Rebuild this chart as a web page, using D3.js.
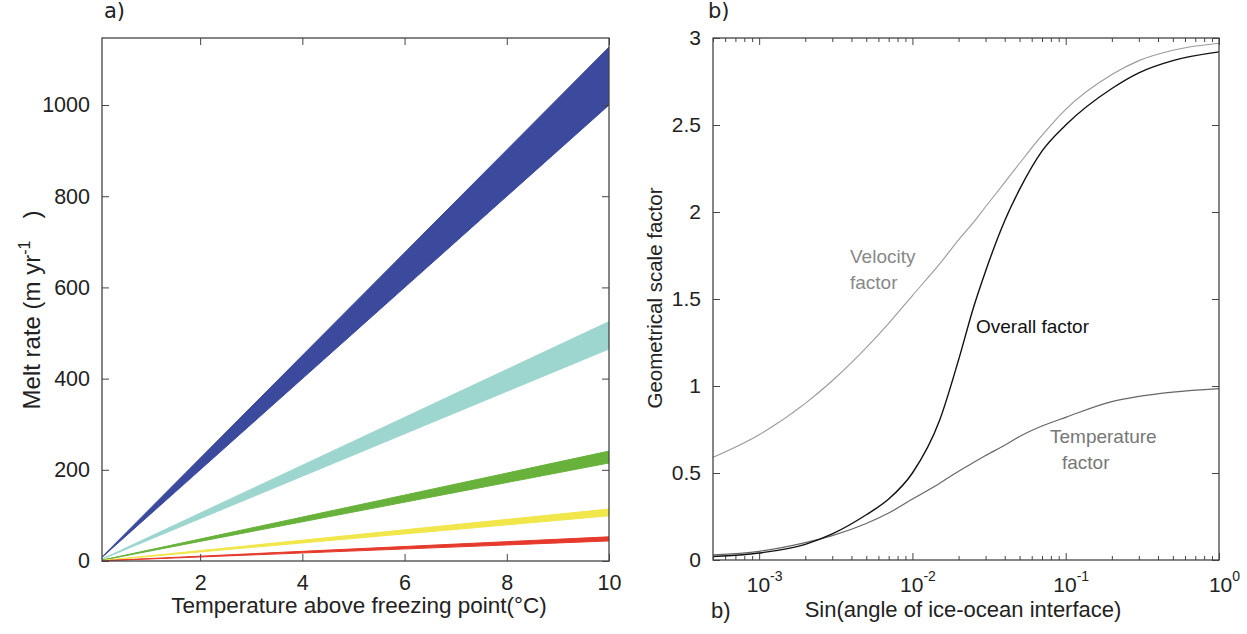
<!DOCTYPE html>
<html>
<head>
<meta charset="utf-8">
<script src="https://cdn.jsdelivr.net/npm/d3@7"></script>
<style>
  body { margin: 0; background: #fff; }
  svg { display: block; font-family: "Liberation Sans", Arial, sans-serif; }
  .frame { fill: none; stroke: #444; stroke-width: 1.3; }
</style>
</head>
<body>
<script>
/* Panel a: melt rate bands (values at T = 0 and T = 10) */
var temps = [0, 10],
    bandColors = ["#3b4a9c", "#9dd6cf", "#68b23c", "#f1e64a", "#e53a2c"],
    bandLow  = [[0, 1000], [0, 465], [0, 215], [0, 99], [0, 44]],
    bandHigh = [[0, 1127], [0, 525], [0, 241], [0, 114], [0, 53]],
    xTicksA = [2, 4, 6, 8, 10],
    yTicksA = [0, 200, 400, 600, 800, 1000];

/* Panel b: geometrical scale factors vs sin(angle) */
var sinAngle       = [5e-4, 1e-3, 2e-3, 3e-3, 5e-3, 7e-3, 1e-2, 1.5e-2, 2e-2, 2.5e-2, 3e-2, 4e-2, 5e-2, 7e-2, 0.1, 0.2, 0.3, 0.5, 1],
    velocityFactor = [0.59, 0.72, 0.90, 1.03, 1.22, 1.36, 1.52, 1.70, 1.84, 1.94, 2.03, 2.17, 2.28, 2.44, 2.59, 2.79, 2.87, 2.93, 2.97],
    tempFactor     = [0.03, 0.05, 0.10, 0.14, 0.21, 0.27, 0.35, 0.44, 0.51, 0.56, 0.60, 0.66, 0.71, 0.77, 0.82, 0.91, 0.94, 0.965, 0.985],
    overallFactor  = [0.02, 0.04, 0.09, 0.15, 0.26, 0.35, 0.50, 0.80, 1.15, 1.45, 1.66, 1.95, 2.13, 2.35, 2.50, 2.71, 2.80, 2.87, 2.92],
    xTicksB = [1e-3, 1e-2, 1e-1, 1],
    yTicksB = [0, 0.5, 1, 1.5, 2, 2.5, 3];

var width = 1247, height = 634;
var svg = d3.select("body").append("svg")
    .attr("width", width)
    .attr("height", height);

/* ---------- panel a ---------- */
var a = {left: 102, right: 609, top: 38, bottom: 561};
var xA = d3.scaleLinear().domain([0.08, 10]).range([a.left, a.right]),
    yA = d3.scaleLinear().domain([0, 1147]).range([a.bottom, a.top]);

svg.append("clipPath").attr("id", "clipA")
  .append("rect").attr("x", a.left).attr("y", a.top)
    .attr("width", a.right - a.left).attr("height", a.bottom - a.top);

var area = d3.area()
    .x(function(d) { return xA(d.t); })
    .y0(function(d) { return yA(d.lo); })
    .y1(function(d) { return yA(d.hi); });

var bands = bandLow.map(function(lo, i) {
  return temps.map(function(t, j) { return {t: t, lo: lo[j], hi: bandHigh[i][j]}; });
});

svg.append("g").attr("clip-path", "url(#clipA)")
  .selectAll("path")
  .data(bands)
  .enter().append("path")
    .attr("d", area)
    .attr("fill", function(d, i) { return bandColors[i]; })
    .attr("stroke", function(d, i) { return bandColors[i]; })
    .attr("stroke-width", 1);

// ticks: inward on all four sides, MATLAB style
svg.append("g").attr("transform", "translate(0," + a.bottom + ")")
    .call(d3.axisBottom(xA).tickValues(xTicksA).tickSize(-7).tickPadding(14).tickFormat(d3.format("d")))
    .call(styleAxis, "21.5px");
svg.append("g").attr("transform", "translate(0," + a.top + ")")
    .call(d3.axisTop(xA).tickValues(xTicksA).tickSize(-7).tickFormat(""))
    .call(styleAxis);
svg.append("g").attr("transform", "translate(" + a.left + ",0)")
    .call(d3.axisLeft(yA).tickValues(yTicksA).tickSize(-7).tickPadding(12).tickFormat(d3.format("d")))
    .call(styleAxis, "21.5px");
svg.append("g").attr("transform", "translate(" + a.right + ",0)")
    .call(d3.axisRight(yA).tickValues(yTicksA).tickSize(-7).tickFormat(""))
    .call(styleAxis);

svg.append("rect").attr("class", "frame")
    .attr("x", a.left).attr("y", a.top)
    .attr("width", a.right - a.left).attr("height", a.bottom - a.top);

svg.append("text")
    .attr("x", 359).attr("y", 613)
    .attr("text-anchor", "middle")
    .style("font-size", "22.5px").style("fill", "#222")
    .text("Temperature above freezing point(\u00B0C)");

var yl = svg.append("text")
    .attr("transform", "translate(40,310) rotate(-90)")
    .attr("text-anchor", "middle")
    .style("font-size", "24px").style("fill", "#222");
yl.append("tspan").text("Melt rate (m yr");
yl.append("tspan").attr("dy", -10).style("font-size", "16px").text("-1");
yl.append("tspan").attr("dy", 10).attr("dx", 22).text(")");

svg.append("text")
    .attr("x", 104).attr("y", 18)
    .style("font-family", "'DejaVu Sans', sans-serif")
    .style("font-size", "21px").style("fill", "#222")
    .text("a)");

/* ---------- panel b ---------- */
var b = {left: 713, right: 1219, top: 38, bottom: 560};
var xB = d3.scaleLog().domain([5e-4, 1]).range([b.left, b.right]),
    yB = d3.scaleLinear().domain([0, 3]).range([b.bottom, b.top]);

var minorTicks = [];
[1e-4, 1e-3, 1e-2, 1e-1].forEach(function(dec) {
  for (var k = 2; k <= 9; k++) {
    var v = dec * k;
    if (v >= 5e-4 && v < 1) minorTicks.push(v);
  }
});

svg.append("g").attr("transform", "translate(0," + b.bottom + ")")
    .call(d3.axisBottom(xB).tickValues(minorTicks).tickSize(-4).tickFormat(""))
    .call(styleAxis);
svg.append("g").attr("transform", "translate(0," + b.top + ")")
    .call(d3.axisTop(xB).tickValues(minorTicks).tickSize(-4).tickFormat(""))
    .call(styleAxis);
var xAxB = svg.append("g").attr("transform", "translate(0," + b.bottom + ")")
    .call(d3.axisBottom(xB).tickValues(xTicksB).tickSize(-7).tickFormat(""))
    .call(styleAxis);
svg.append("g").attr("transform", "translate(0," + b.top + ")")
    .call(d3.axisTop(xB).tickValues(xTicksB).tickSize(-7).tickFormat(""))
    .call(styleAxis);

// 10^n labels with superscripts
xAxB.selectAll(".tick").append("text")
    .attr("y", 32)
    .attr("dx", 5)
    .attr("fill", "#222")
    .attr("text-anchor", "middle")
    .style("font-size", "21px")
    .each(function(d) {
      var t = d3.select(this);
      t.append("tspan").text("10");
      t.append("tspan").attr("dy", -11).style("font-size", "14px").text(Math.round(Math.log10(d)));
    });

svg.append("g").attr("transform", "translate(" + b.left + ",0)")
    .call(d3.axisLeft(yB).tickValues(yTicksB).tickSize(-7).tickPadding(12).tickFormat(d3.format("")))
    .call(styleAxis, "21px");
svg.append("g").attr("transform", "translate(" + b.right + ",0)")
    .call(d3.axisRight(yB).tickValues(yTicksB).tickSize(-7).tickFormat(""))
    .call(styleAxis);

var line = d3.line()
    .x(function(d) { return xB(d[0]); })
    .y(function(d) { return yB(d[1]); })
    .curve(d3.curveMonotoneX);

var curves = [
  {vals: velocityFactor, color: "#9a9a9a", w: 1.1},
  {vals: tempFactor, color: "#666", w: 1.2},
  {vals: overallFactor, color: "#111", w: 1.4}
];
svg.append("g").selectAll("path")
  .data(curves)
  .enter().append("path")
    .attr("d", function(c) { return line(sinAngle.map(function(s, i) { return [s, c.vals[i]]; })); })
    .attr("fill", "none")
    .attr("stroke", function(c) { return c.color; })
    .attr("stroke-width", function(c) { return c.w; });

svg.append("rect").attr("class", "frame")
    .attr("x", b.left).attr("y", b.top)
    .attr("width", b.right - b.left).attr("height", b.bottom - b.top);

var labels = [
  {lines: ["Velocity", "factor"], x: 850, y: 263, indent: 0, color: "#888"},
  {lines: ["Overall factor"], x: 976, y: 333, indent: 0, color: "#111"},
  {lines: ["Temperature", "factor"], x: 1050, y: 443, indent: 12, color: "#777"}
];
labels.forEach(function(l) {
  var t = svg.append("text").attr("x", l.x).attr("y", l.y)
      .style("font-size", "19px").style("fill", l.color);
  l.lines.forEach(function(s, i) {
    t.append("tspan").attr("x", l.x + (i ? l.indent : 0)).attr("dy", i ? 26 : 0).text(s);
  });
});

svg.append("text")
    .attr("transform", "translate(662,298) rotate(-90)")
    .attr("text-anchor", "middle")
    .style("font-size", "20.5px").style("fill", "#222")
    .text("Geometrical scale factor");

svg.append("text")
    .attr("x", 963).attr("y", 617)
    .attr("text-anchor", "middle")
    .style("font-size", "22px").style("fill", "#222")
    .text("Sin(angle of ice-ocean interface)");

svg.append("text")
    .attr("x", 711).attr("y", 618)
    .style("font-size", "22px").style("fill", "#222")
    .text("b)");
svg.append("text")
    .attr("x", 708).attr("y", 18)
    .style("font-family", "'DejaVu Sans', sans-serif")
    .style("font-size", "21px").style("fill", "#222")
    .text("b)");

function styleAxis(g, size) {
  g.select(".domain").remove();
  g.selectAll(".tick line").attr("stroke", "#444").attr("stroke-width", 1);
  g.selectAll(".tick text").attr("fill", "#222").style("font-size", size || "20px");
}
</script>
</body>
</html>
